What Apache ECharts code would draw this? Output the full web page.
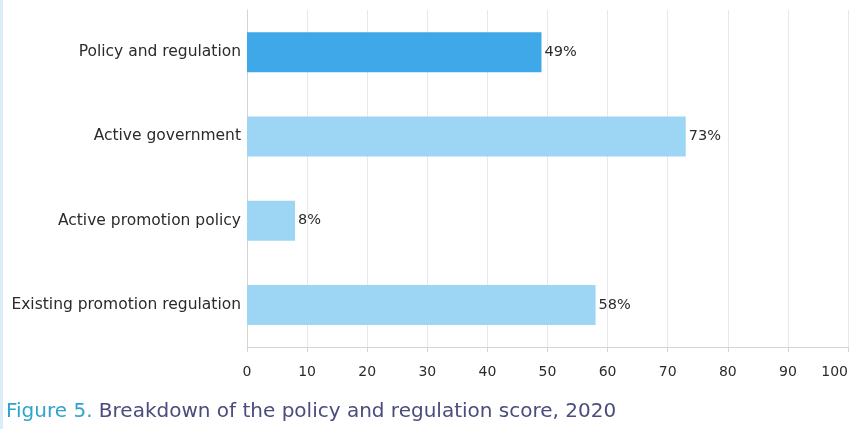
<!DOCTYPE html>
<html>
<head>
<meta charset="utf-8">
<script src="https://cdn.jsdelivr.net/npm/echarts@6/dist/echarts.min.js"></script>
<style>
html,body{margin:0;padding:0;background:#fff;}
#frame{position:absolute;left:0;top:0;width:3px;height:429px;background:#d9eef8;}
#chart{width:859px;height:429px;}
</style>
</head>
<body>
<div id="frame"></div>
<div id="chart"></div>
<script>
var categories = ["Policy and regulation", "Active government", "Active promotion policy", "Existing promotion regulation"];
var values = [49, 73, 8, 58];
var highlight = [true, false, false, false];
var xTicks = [0, 10, 20, 30, 40, 50, 60, 70, 80, 90, 100];
var captionLead = "Figure 5.";
var captionText = " Breakdown of the policy and regulation score, 2020";

var chart = echarts.init(document.getElementById('chart'));
var font = '"DejaVu Sans", "Open Sans", sans-serif';
var data = values.map(function (v, i) {
  return { value: v, itemStyle: { color: highlight[i] ? '#3ea8e9' : '#9dd6f5' } };
});
chart.setOption({
  animation: false,
  grid: { left: 247, right: 11, top: 10, bottom: 82, containLabel: false },
  title: {
    left: 1, top: 397,
    text: '{a|' + captionLead + '}{b|' + captionText + '}',
    textStyle: {
      fontWeight: 'normal',
      rich: {
        a: { color: '#2ea4cd', fontSize: 20, fontFamily: font, fontWeight: 'normal' },
        b: { color: '#4a4c7c', fontSize: 20, fontFamily: font, fontWeight: 'normal' }
      }
    }
  },
  xAxis: {
    type: 'value', min: xTicks[0], max: xTicks[xTicks.length - 1], interval: 10,
    axisLine: { show: true, lineStyle: { color: '#d4d4d4', width: 1 } },
    axisTick: { show: true, length: 5, lineStyle: { color: '#d4d4d4' } },
    splitLine: { show: true, lineStyle: { color: '#e8e8e8', width: 1 } },
    axisLabel: { color: '#2b2b2b', fontSize: 14, fontFamily: font, margin: 18, alignMaxLabel: 'right' }
  },
  yAxis: {
    type: 'category', data: categories, inverse: true,
    axisLine: { show: true, lineStyle: { color: '#d4d4d4' } },
    axisTick: { show: false },
    axisLabel: { color: '#2b2b2b', fontSize: 15.5, fontFamily: font, margin: 6 }
  },
  series: [{
    type: 'bar', data: data, barWidth: 40,
    label: {
      show: true, position: 'right', distance: 3,
      formatter: function (p) { return p.value + '%'; },
      color: '#2b2b2b', fontSize: 14.5, fontFamily: font
    }
  }]
});
</script>
</body>
</html>
